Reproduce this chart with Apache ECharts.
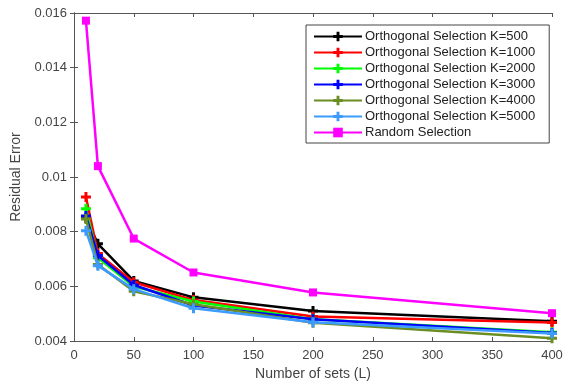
<!DOCTYPE html>
<html>
<head>
<meta charset="utf-8">
<script src="https://cdn.jsdelivr.net/npm/echarts@6/dist/echarts.min.js"></script>
<style>
  html, body { margin: 0; padding: 0; background: #fff; }
  #chart { width: 575px; height: 386px; }
</style>
</head>
<body>
<div id="chart"></div>
<script>
// x positions (number of sets L)
const setsL = [10, 20, 50, 100, 200, 400]

// residual error for each method
const orthK500 = [0.0085, 0.00756, 0.0062, 0.0056, 0.0051, 0.00473]
const orthK1000 = [0.00927, 0.0072, 0.00615, 0.0055, 0.0049, 0.00468]
const orthK2000 = [0.00884, 0.00705, 0.0060, 0.00545, 0.0048, 0.00432]
const orthK3000 = [0.00858, 0.00713, 0.00605, 0.0053, 0.0048, 0.0043]
const orthK4000 = [0.00847, 0.0068, 0.00582, 0.00535, 0.00467, 0.0041]
const orthK5000 = [0.00804, 0.00676, 0.0059, 0.0052, 0.00469, 0.00428]
const randomSel = [0.01572, 0.0104, 0.00775, 0.00651, 0.00578, 0.00502]

const seriesNames = [
  'Orthogonal Selection K=500',
  'Orthogonal Selection K=1000',
  'Orthogonal Selection K=2000',
  'Orthogonal Selection K=3000',
  'Orthogonal Selection K=4000',
  'Orthogonal Selection K=5000',
  'Random Selection'
]
const seriesData = [orthK500, orthK1000, orthK2000, orthK3000, orthK4000, orthK5000, randomSel]
const seriesColors = ['#000000', '#ff0000', '#00ff00', '#0000ff', '#6b8e23', '#3d9bff', '#ff00ff']

const xTicks = { min: 0, max: 400, interval: 50 }
const yTicks = { min: 0.004, max: 0.016, interval: 0.002 }

// plus marker (thick arms)
const plusPath = 'path://M3.5,0h3v3.5h3.5v3h-3.5v3.5h-3v-3.5h-3.5v-3h3.5z'

const chart = echarts.init(document.getElementById('chart'))

const axisColor = '#555'
const labelColor = '#444'
const font = '"Liberation Sans", Arial, sans-serif'

function makeSeries(i) {
  const isRandom = i === 6
  return {
    name: seriesNames[i],
    type: 'line',
    data: setsL.map((x, j) => [x, seriesData[i][j]]),
    symbol: isRandom ? 'rect' : plusPath,
    symbolSize: isRandom ? 8 : 10,
    showAllSymbol: true,
    lineStyle: { width: 2.5, color: seriesColors[i] },
    itemStyle: { color: seriesColors[i] },
    emphasis: { disabled: true },
    z: 2 + i
  }
}

const option = {
  backgroundColor: '#fff',
  animation: false,
  grid: { left: 74, right: 23, top: 13, bottom: 43 },
  legend: {
    orient: 'vertical',
    left: 306,
    top: 25,
    padding: [5, 14, 4, 7],
    itemWidth: 48,
    itemHeight: 12,
    itemGap: 3,
    backgroundColor: '#fff',
    borderColor: '#444',
    borderWidth: 1,
    borderRadius: 0,
    textStyle: { fontFamily: font, fontSize: 13, color: '#222', padding: [0, 0, 0, -2] },
    data: seriesNames
  },
  xAxis: [{
    type: 'value',
    min: xTicks.min,
    max: xTicks.max,
    interval: xTicks.interval,
    name: 'Number of sets (L)',
    nameLocation: 'middle',
    nameGap: 25,
    nameTextStyle: { fontFamily: font, fontSize: 14, color: labelColor },
    axisLine: { show: true, lineStyle: { color: axisColor, width: 1 } },
    axisTick: { show: true, inside: true, length: 4, lineStyle: { color: axisColor } },
    axisLabel: { fontFamily: font, fontSize: 13, color: labelColor, margin: 8 },
    splitLine: { show: false }
  }, {
    type: 'value',
    position: 'top',
    min: xTicks.min,
    max: xTicks.max,
    interval: xTicks.interval,
    axisLine: { show: true, lineStyle: { color: axisColor, width: 1 } },
    axisTick: { show: true, inside: true, length: 4, lineStyle: { color: axisColor } },
    axisLabel: { show: false },
    splitLine: { show: false }
  }],
  yAxis: [{
    type: 'value',
    min: yTicks.min,
    max: yTicks.max,
    interval: yTicks.interval,
    name: 'Residual Error',
    nameLocation: 'middle',
    nameGap: 49,
    nameTextStyle: { fontFamily: font, fontSize: 14, color: labelColor },
    axisLine: { show: true, lineStyle: { color: axisColor, width: 1 } },
    axisTick: { show: true, inside: true, length: 4, lineStyle: { color: axisColor } },
    axisLabel: {
      fontFamily: font, fontSize: 13, color: labelColor, margin: 7,
      formatter: v => String(+v.toFixed(3))
    },
    splitLine: { show: false }
  }, {
    type: 'value',
    position: 'right',
    min: yTicks.min,
    max: yTicks.max,
    interval: yTicks.interval,
    axisLine: { show: true, lineStyle: { color: axisColor, width: 1 } },
    axisTick: { show: true, inside: true, length: 4, lineStyle: { color: axisColor } },
    axisLabel: { show: false },
    splitLine: { show: false }
  }],
  series: seriesNames.map((_, i) => makeSeries(i))
}

chart.setOption(option)
</script>
</body>
</html>
